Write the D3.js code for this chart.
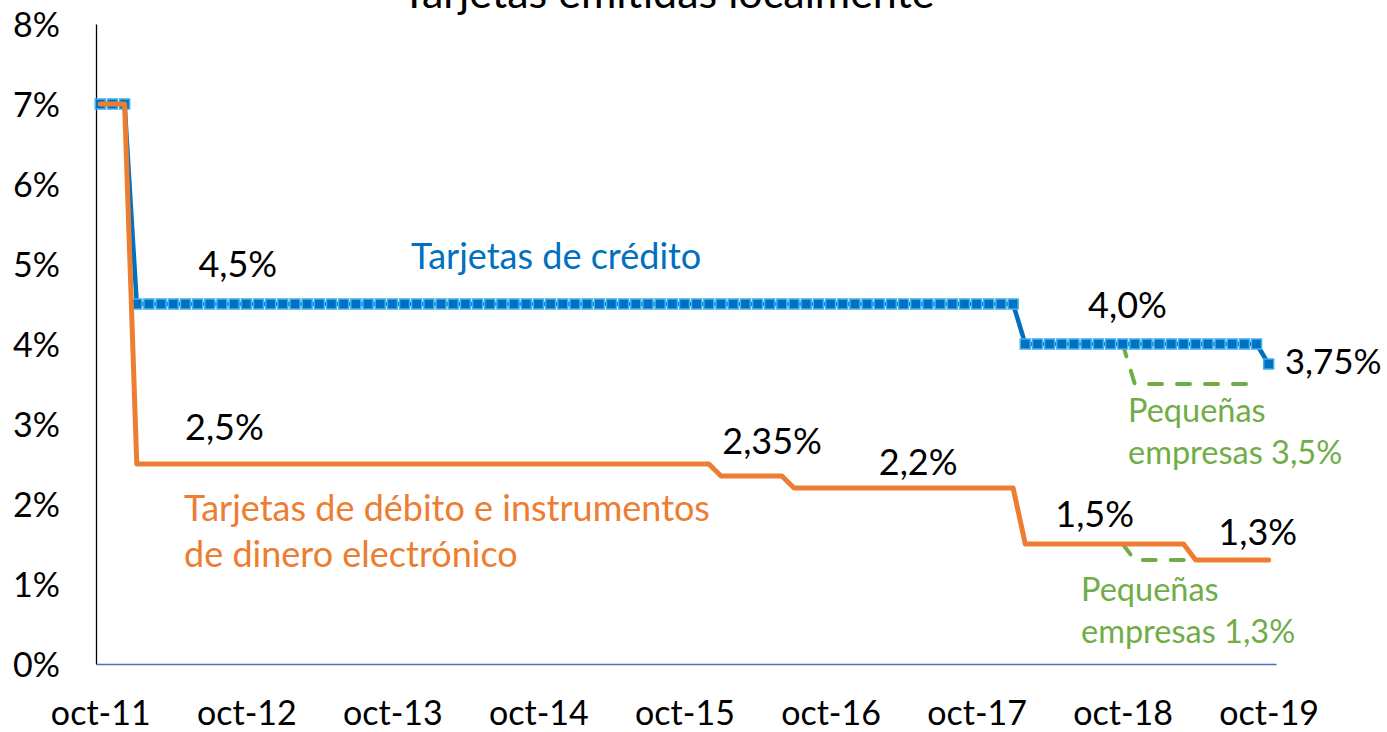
<!DOCTYPE html>
<html>
<head>
<meta charset="utf-8">
<script src="https://cdn.jsdelivr.net/npm/d3@7"></script>
<style>
  body { margin: 0; background: #fff; }
  svg { display: block; font-family: Lato, "Open Sans", sans-serif; }
</style>
</head>
<body>
<div id="chart"></div>
<script>
// chart size
const FRAME_WIDTH = 1387;
const FRAME_HEIGHT = 732;

// x labels (every 12 months, starting oct-11)
const TICK_LABELS = ["oct-11", "oct-12", "oct-13", "oct-14", "oct-15",
                     "oct-16", "oct-17", "oct-18", "oct-19"];
const Y_TICKS = [0, 1, 2, 3, 4, 5, 6, 7, 8];

// monthly rates, oct-11 .. oct-19 (one row = oct..sep)
const CREDIT = [
  7, 7, 7, 4.5, 4.5, 4.5, 4.5, 4.5, 4.5, 4.5, 4.5, 4.5,
  4.5, 4.5, 4.5, 4.5, 4.5, 4.5, 4.5, 4.5, 4.5, 4.5, 4.5, 4.5,
  4.5, 4.5, 4.5, 4.5, 4.5, 4.5, 4.5, 4.5, 4.5, 4.5, 4.5, 4.5,
  4.5, 4.5, 4.5, 4.5, 4.5, 4.5, 4.5, 4.5, 4.5, 4.5, 4.5, 4.5,
  4.5, 4.5, 4.5, 4.5, 4.5, 4.5, 4.5, 4.5, 4.5, 4.5, 4.5, 4.5,
  4.5, 4.5, 4.5, 4.5, 4.5, 4.5, 4.5, 4.5, 4.5, 4.5, 4.5, 4.5,
  4.5, 4.5, 4.5, 4.5, 4.0, 4.0, 4.0, 4.0, 4.0, 4.0, 4.0, 4.0,
  4.0, 4.0, 4.0, 4.0, 4.0, 4.0, 4.0, 4.0, 4.0, 4.0, 4.0, 4.0,
  3.75
];

const DEBIT = [
  7, 7, 7, 2.5, 2.5, 2.5, 2.5, 2.5, 2.5, 2.5, 2.5, 2.5,
  2.5, 2.5, 2.5, 2.5, 2.5, 2.5, 2.5, 2.5, 2.5, 2.5, 2.5, 2.5,
  2.5, 2.5, 2.5, 2.5, 2.5, 2.5, 2.5, 2.5, 2.5, 2.5, 2.5, 2.5,
  2.5, 2.5, 2.5, 2.5, 2.5, 2.5, 2.5, 2.5, 2.5, 2.5, 2.5, 2.5,
  2.5, 2.5, 2.5, 2.35, 2.35, 2.35, 2.35, 2.35, 2.35, 2.2, 2.2, 2.2,
  2.2, 2.2, 2.2, 2.2, 2.2, 2.2, 2.2, 2.2, 2.2, 2.2, 2.2, 2.2,
  2.2, 2.2, 2.2, 2.2, 1.5, 1.5, 1.5, 1.5, 1.5, 1.5, 1.5, 1.5,
  1.5, 1.5, 1.5, 1.5, 1.5, 1.5, 1.3, 1.3, 1.3, 1.3, 1.3, 1.3,
  1.3
];

// small companies (start at month index 84 = oct-18)
const SMALL_START = 84;
const SMALL_CREDIT = [4.0, 3.5, 3.5, 3.5, 3.5, 3.5, 3.5, 3.5, 3.5, 3.5, 3.5, 3.5];
const SMALL_DEBIT = [1.5, 1.3, 1.3, 1.3, 1.3, 1.3, 1.3];

// point labels: [month index, value, text, gap above line]
const VALUE_LABELS = [
  [11.3, 4.5, "4,5%", 27], [84.4, 4.0, "4,0%", 26],
  [10.2, 2.5, "2,5%", 24], [55.2, 2.35, "2,35%", 22], [67.2, 2.2, "2,2%", 13],
  [81.7, 1.5, "1,5%", 17], [95.1, 1.3, "1,3%", 15]
];

const BLUE = "#0070C0";
const ORANGE = "#ED7D31";
const GREEN = "#70AD47";

const svg = d3.select("#chart")
  .append("svg")
    .attr("width", FRAME_WIDTH)
    .attr("height", FRAME_HEIGHT);

const X_SCALE = d3.scaleLinear()
  .domain([-0.35, 96.6])
  .range([96, 1276]);

const Y_SCALE = d3.scaleLinear()
  .domain([0, 8])
  .range([664, 24]);

// title (cut at the top, as in the original)
svg.append("text")
  .attr("x", 668).attr("y", 8)
  .attr("text-anchor", "middle")
  .attr("font-size", 43)
  .text("Tarjetas emitidas localmente");

// y axis
const yAxis = svg.append("g")
  .attr("transform", "translate(96,0)")
  .call(d3.axisLeft(Y_SCALE).tickValues(Y_TICKS)
          .tickFormat((d) => d + "%").tickSize(0).tickPadding(36));
yAxis.select(".domain").attr("stroke", "#000").attr("stroke-width", 1.3);
yAxis.selectAll("text").attr("font-size", 34).attr("font-family", "Lato")
  .attr("fill", "#000").attr("dy", "0.36em");

// x axis
const xAxis = svg.append("g")
  .attr("transform", "translate(0,664)")
  .call(d3.axisBottom(X_SCALE).tickValues(d3.range(0, 97, 12))
          .tickFormat((d, i) => TICK_LABELS[i]).tickSize(0).tickPadding(37));
xAxis.select(".domain").attr("stroke", "#4472C4").attr("stroke-width", 1.5);
xAxis.selectAll("text").attr("font-size", 34).attr("font-family", "Lato")
  .attr("fill", "#000");

const line = d3.line()
  .x((d) => X_SCALE(d[0]))
  .y((d) => Y_SCALE(d[1]));

const creditPts = CREDIT.map((v, i) => [i, v]);
const debitPts = DEBIT.map((v, i) => [i, v]);
const smallCreditPts = SMALL_CREDIT.map((v, i) => [SMALL_START + i, v]);
const smallDebitPts = SMALL_DEBIT.map((v, i) => [SMALL_START + i, v]);

// green dashed lines (under the rest)
[smallCreditPts, smallDebitPts].forEach((pts) => {
  svg.append("path")
    .datum(pts)
    .attr("d", line)
    .attr("fill", "none")
    .attr("stroke", GREEN)
    .attr("stroke-width", 4)
    .attr("stroke-linecap", "round")
    .attr("stroke-dasharray", "13,15");
});

// credit line + square markers
svg.append("path")
  .datum(creditPts)
  .attr("d", line)
  .attr("fill", "none")
  .attr("stroke", BLUE)
  .attr("stroke-width", 4.5);

svg.selectAll(".marker")
  .data(creditPts)
  .enter()
  .append("rect")
    .attr("class", "marker")
    .attr("x", (d) => X_SCALE(d[0]) - 5)
    .attr("y", (d) => Y_SCALE(d[1]) - 5)
    .attr("width", 10)
    .attr("height", 10)
    .attr("fill", BLUE)
    .attr("stroke", "#3FB0F0")
    .attr("stroke-width", 1.5);

// debit line
svg.append("path")
  .datum(debitPts)
  .attr("d", line)
  .attr("fill", "none")
  .attr("stroke", ORANGE)
  .attr("stroke-width", 5)
  .attr("stroke-linejoin", "round")
  .attr("stroke-linecap", "round");

// value labels
svg.selectAll(".vlabel")
  .data(VALUE_LABELS)
  .enter()
  .append("text")
    .attr("class", "vlabel")
    .attr("x", (d) => X_SCALE(d[0]))
    .attr("y", (d) => Y_SCALE(d[1]) - d[3])
    .attr("text-anchor", "middle")
    .attr("font-size", 36)
    .text((d) => d[2]);

svg.append("text")
  .attr("x", X_SCALE(96) + 16).attr("y", Y_SCALE(3.75) + 10)
  .attr("font-size", 35)
  .text("3,75%");

// series labels
svg.append("text")
  .attr("x", 411).attr("y", 269)
  .attr("fill", BLUE).attr("font-size", 36)
  .text("Tarjetas de crédito");

const debitLabel = svg.append("text")
  .attr("x", 184).attr("y", 521)
  .attr("fill", ORANGE).attr("font-size", 36);
debitLabel.append("tspan").attr("x", 184).text("Tarjetas de débito e instrumentos");
debitLabel.append("tspan").attr("x", 184).attr("dy", 46).text("de dinero electrónico");

function smallLabel(x, y, rate) {
  const t = svg.append("text")
    .attr("x", x).attr("y", y)
    .attr("fill", GREEN).attr("font-size", 32.5);
  t.append("tspan").attr("x", x).text("Pequeñas");
  t.append("tspan").attr("x", x).attr("dy", 42).text("empresas " + rate);
}
smallLabel(1128, 422, "3,5%");
smallLabel(1081, 601, "1,3%");
</script>
</body>
</html>
